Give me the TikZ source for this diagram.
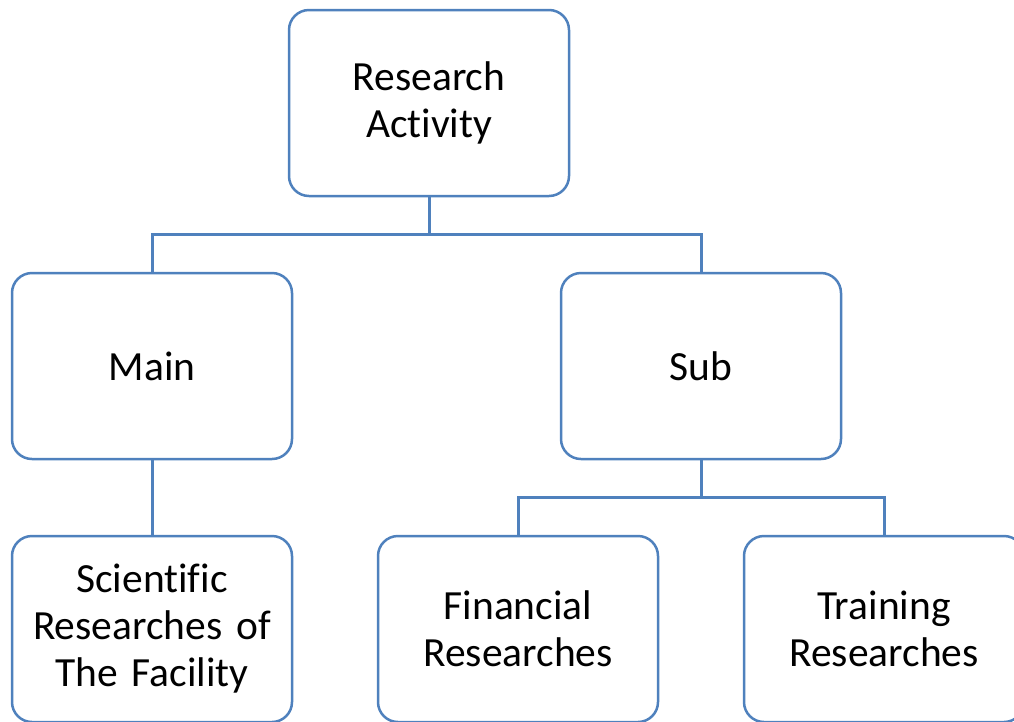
\documentclass[tikz,border=0pt]{standalone}
\usepackage{fontspec}
\setmainfont[Ligatures=NoCommon,WordSpace=0.8]{Carlito}
\usepackage{xcolor}
\usetikzlibrary{positioning}
\definecolor{boxblue}{HTML}{4F81BD}

\begin{document}
\begin{tikzpicture}[x=1pt,y=-1pt,semithick,
                    orgbox/.style={rectangle, rounded corners=20pt, draw=boxblue, fill=white, line width=2.5pt,
                                   minimum width=280pt, minimum height=186pt, text width=270pt, align=center,
                                   font=\fontsize{41.5}{47}\selectfont},
                    link/.style={draw=boxblue, line width=3pt}]
      \useasboundingbox (0,0) rectangle (1014,721);
      \clip (0,0) rectangle (1014,721);

      \node[orgbox]   (RA) at (429,103)  {Research\\Activity};
      \node[orgbox]   (M)  at (152,366)  {Main};
      \node[orgbox]   (S)  at (701,366)  {Sub};
      \node[orgbox]   (SR) at (152,629)  {Scientific\\Researches of\\The Facility};
      \node[orgbox]   (FR) at (518,629)  {Financial\\Researches};
      \node[orgbox]   (TR) at (884,629)  {Training\\Researches};

      \coordinate (j1) at (429,234);
      \coordinate (j2) at (701,497);
      \path[link] (RA.south) -- (j1) -| (M.north)
                  (j1) -| (S.north)
                  (M.south) -- (SR.north)
                  (S.south) -- (j2) -| (FR.north)
                  (j2) -| (TR.north);
\end{tikzpicture}
\end{document}
